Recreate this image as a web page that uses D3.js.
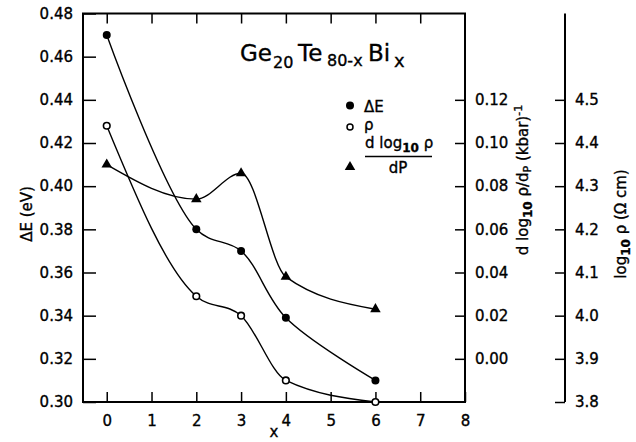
<!DOCTYPE html>
<html>
<head>
<meta charset="utf-8">
<script src="https://cdn.jsdelivr.net/npm/d3@7"></script>
<style>
  html, body { margin: 0; padding: 0; background: #fff; }
  svg { display: block; }
  text { font-family: "DejaVu Sans", sans-serif; fill: #000; stroke: #000; stroke-width: 0.35px; }
</style>
</head>
<body>
<svg id="chart" width="636" height="442"></svg>
<script>
// ---- data ----
const xValues = [0, 2, 3, 4, 6];
const deltaE = [0.470, 0.380, 0.370, 0.339, 0.310];          // eV (left axis)
const logRho = [4.44, 4.045, 4.00, 3.85, 3.80];              // log10 rho (far right axis)
const dLogRhoDP = [0.090, 0.074, 0.086, 0.038, 0.023];       // (kbar)^-1 (middle axis)

const xTicks = [0, 1, 2, 3, 4, 5, 6, 7, 8];
const eTicks = [0.30, 0.32, 0.34, 0.36, 0.38, 0.40, 0.42, 0.44, 0.46, 0.48];
const dTicks = [0.00, 0.02, 0.04, 0.06, 0.08, 0.10, 0.12];
const rTicks = [3.8, 3.9, 4.0, 4.1, 4.2, 4.3, 4.4, 4.5];

// ---- layout ----
const svg = d3.select("#chart");
const L = 83, R = 465, T = 13.5, B = 402;
const farX = 565;

const x = d3.scaleLinear().domain([-0.53, 8]).range([L, R]);
const yE = d3.scaleLinear().domain([0.30, 0.48]).range([B, T]);
const yD = d3.scaleLinear().domain([-0.02, 0.16]).range([B, T]);
const yR = d3.scaleLinear().domain([3.8, 4.7]).range([B, T]);

function styleAxis(g) {
  g.select(".domain").remove();
  g.selectAll(".tick line").attr("stroke", "#000").attr("stroke-width", 1.5);
  g.selectAll(".tick text").style("font-family", "DejaVu Sans, sans-serif").style("font-size", "15px").attr("fill", "#000");
}

// bottom axis
svg.append("g").attr("transform", `translate(0,${B})`)
  .call(d3.axisBottom(x).tickValues(xTicks).tickFormat(d3.format("d")).tickSizeInner(-10).tickSizeOuter(0).tickPadding(13))
  .call(styleAxis);
// top ticks
svg.append("g").attr("transform", `translate(0,${T})`)
  .call(d3.axisTop(x).tickValues(xTicks.slice(0, 8)).tickFormat("").tickSizeInner(-10).tickSizeOuter(0))
  .call(styleAxis);
// left axis
svg.append("g").attr("transform", `translate(${L},0)`)
  .call(d3.axisLeft(yE).tickValues(eTicks).tickFormat(d3.format(".2f")).tickSizeInner(-13).tickSizeOuter(0).tickPadding(10))
  .call(styleAxis);
// middle (frame right) axis
svg.append("g").attr("transform", `translate(${R},0)`)
  .call(d3.axisRight(yD).tickValues(dTicks).tickFormat(d3.format(".2f")).tickSizeInner(-10).tickSizeOuter(0).tickPadding(10))
  .call(styleAxis);
// far right axis
const gFar = svg.append("g").attr("transform", `translate(${farX},0)`)
  .call(d3.axisRight(yR).tickValues(rTicks).tickFormat(d3.format(".1f")).tickSizeInner(-10).tickSizeOuter(0).tickPadding(10))
  .call(styleAxis);
gFar.append("line").attr("x1", 0).attr("x2", 0).attr("y1", yR(4.7)).attr("y2", yR(3.8))
  .attr("stroke", "#000").attr("stroke-width", 2);

// frame
svg.append("rect").attr("x", L).attr("y", T).attr("width", R - L).attr("height", B - T)
  .attr("fill", "none").attr("stroke", "#000").attr("stroke-width", 2);

// curves
const line = (ys, curve) => d3.line().x((d, i) => x(xValues[i])).y((d) => ys(d)).curve(curve);
const plot = svg.append("g");
plot.append("path").datum(deltaE).attr("d", line(yE, d3.curveCatmullRom.alpha(0.5))).attr("fill", "none").attr("stroke", "#000").attr("stroke-width", 1.4);
plot.append("path").datum(logRho).attr("d", line(yR, d3.curveMonotoneX)).attr("fill", "none").attr("stroke", "#000").attr("stroke-width", 1.4);
plot.append("path").datum(dLogRhoDP).attr("d", line(yD, d3.curveMonotoneX)).attr("fill", "none").attr("stroke", "#000").attr("stroke-width", 1.4);

// markers
plot.selectAll(".pe").data(deltaE).enter().append("circle")
  .attr("cx", (d, i) => x(xValues[i])).attr("cy", d => yE(d)).attr("r", 4).attr("fill", "#000");
plot.selectAll(".pr").data(logRho).enter().append("circle")
  .attr("cx", (d, i) => x(xValues[i])).attr("cy", d => yR(d)).attr("r", 3.3)
  .attr("fill", "#fff").attr("stroke", "#000").attr("stroke-width", 1.6);
const tri = d3.symbol().type(d3.symbolTriangle).size(48);
plot.selectAll(".pd").data(dLogRhoDP).enter().append("path")
  .attr("d", tri).attr("transform", (d, i) => `translate(${x(xValues[i])},${yD(d)})`).attr("fill", "#000");

// title
const title = svg.append("text").attr("y", 61).style("font-size", "23px");
title.append("tspan").attr("x", 240).text("Ge");
title.append("tspan").attr("x", 273).attr("dy", 6.5).style("font-size", "16px").text("20");
title.append("tspan").attr("x", 298).attr("dy", -6.5).text("Te");
title.append("tspan").attr("x", 327).attr("dy", 5).style("font-size", "16px").text("80-x");
title.append("tspan").attr("x", 368).attr("dy", -5).text("Bi");
title.append("tspan").attr("x", 394).attr("dy", 6).style("font-size", "18px").text("x");

// legend
const lg = svg.append("g");
lg.append("circle").attr("cx", 350).attr("cy", 105.5).attr("r", 4).attr("fill", "#000");
lg.append("text").attr("x", 364).attr("y", 111.5).style("font-size", "15px").text("\u0394E");
lg.append("circle").attr("cx", 350).attr("cy", 127).attr("r", 3).attr("fill", "#fff").attr("stroke", "#000").attr("stroke-width", 1.5);
lg.append("text").attr("x", 364).attr("y", 130).style("font-size", "15px").text("\u03c1");
lg.append("path").attr("d", tri).attr("transform", "translate(350,167)").attr("fill", "#000");
const num = lg.append("text").attr("x", 365).attr("y", 148).style("font-size", "15px");
num.append("tspan").text("d log");
num.append("tspan").attr("dy", 4).style("font-size", "12px").style("font-weight", "bold").text("10");
num.append("tspan").attr("dy", -4).text(" \u03c1");
lg.append("line").attr("x1", 365).attr("x2", 432).attr("y1", 156.5).attr("y2", 156.5).attr("stroke", "#000").attr("stroke-width", 1.3);
lg.append("text").attr("x", 398).attr("y", 173).attr("text-anchor", "middle").style("font-size", "15px").text("dP");

// axis titles
svg.append("text").attr("transform", "translate(32,214) rotate(-90)").attr("text-anchor", "middle")
  .style("font-size", "15px").text("\u0394E (eV)");

const midT = svg.append("text").attr("transform", "translate(528,180) rotate(-90)").attr("text-anchor", "middle")
  .style("font-size", "15px");
midT.append("tspan").text("d log");
midT.append("tspan").attr("dy", 4).style("font-size", "12px").style("font-weight", "bold").text("10");
midT.append("tspan").attr("dy", -4).text(" \u03c1/d");
midT.append("tspan").attr("dy", 3).style("font-size", "11px").text("P");
midT.append("tspan").attr("dy", -3).text("  (kbar)");
midT.append("tspan").attr("dy", -6).style("font-size", "11px").text("-1");

const farT = svg.append("text").attr("transform", "translate(626,224) rotate(-90)").attr("text-anchor", "middle")
  .style("font-size", "15px");
farT.append("tspan").text("log");
farT.append("tspan").attr("dy", 4).style("font-size", "12px").style("font-weight", "bold").text("10");
farT.append("tspan").attr("dy", -4).text(" \u03c1 (\u03a9 cm)");

// x label
svg.append("text").attr("x", (L + R) / 2).attr("y", 437).attr("text-anchor", "middle").style("font-size", "15px").text("x");
</script>
</body>
</html>
